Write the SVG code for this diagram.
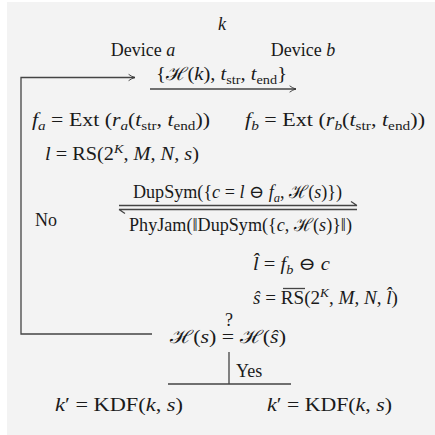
<svg xmlns="http://www.w3.org/2000/svg" width="435" height="435" viewBox="0 0 435 435">
<defs>
<style>
.m{font-family:"Liberation Serif","DejaVu Serif",serif;font-size:18px;fill:#1a1a1a}
.i{font-style:italic}
.s{font-size:12.5px}
.ln{stroke:#444;stroke-width:1.3;fill:none}
</style>
<marker id="arr" viewBox="0 0 10 10" refX="9" refY="5" markerWidth="8" markerHeight="9" orient="auto" markerUnits="userSpaceOnUse">
<path d="M1,1 Q5,4 9,5 Q5,6 1,9" fill="none" stroke="#333" stroke-width="1.1"/>
</marker>
</defs>
<rect x="7" y="2" width="428" height="433" fill="#f3f3f3"/>

<g id="connectors">
<path class="ln" d="M152,334 H21 V77.5 H135" marker-end="url(#arr)"/>
<path class="ln" d="M150,89 H296" marker-end="url(#arr)"/>
<path class="ln" d="M119,205.5 H357 M357,205.5 L351,201.5"/>
<path class="ln" d="M119,209.5 H357 M119,209.5 L125,213.5"/>
<path class="ln" d="M229,352 V384 M168,384 H291"/>
</g>

<g id="key"><text class="m i" x="222" y="30" text-anchor="middle">k</text></g>
<g id="device-a"><text class="m" x="143" y="56" font-size="17" text-anchor="middle">Device <tspan class="i">a</tspan></text></g>
<g id="device-b"><text class="m" x="303" y="56" font-size="17" text-anchor="middle">Device <tspan class="i">b</tspan></text></g>

<g id="msg1"><text class="m" x="156" y="80" textLength="131" lengthAdjust="spacingAndGlyphs">{ℋ(<tspan class="i">k</tspan>), <tspan class="i">t</tspan><tspan class="s" dy="4">str</tspan><tspan dy="-4">, </tspan><tspan class="i">t</tspan><tspan class="s" dy="4">end</tspan><tspan dy="-4">}</tspan></text></g>

<g id="fa"><text class="m" x="32" y="126" textLength="178" lengthAdjust="spacingAndGlyphs"><tspan class="i">f</tspan><tspan class="s i" dy="4">a</tspan><tspan dy="-4"> = Ext (</tspan><tspan class="i">r</tspan><tspan class="s i" dy="4">a</tspan><tspan dy="-4">(</tspan><tspan class="i">t</tspan><tspan class="s" dy="4">str</tspan><tspan dy="-4">, </tspan><tspan class="i">t</tspan><tspan class="s" dy="4">end</tspan><tspan dy="-4">))</tspan></text></g>

<g id="fb"><text class="m" x="245" y="126" textLength="180" lengthAdjust="spacingAndGlyphs"><tspan class="i">f</tspan><tspan class="s i" dy="4">b</tspan><tspan dy="-4"> = Ext (</tspan><tspan class="i">r</tspan><tspan class="s i" dy="4">b</tspan><tspan dy="-4">(</tspan><tspan class="i">t</tspan><tspan class="s" dy="4">str</tspan><tspan dy="-4">, </tspan><tspan class="i">t</tspan><tspan class="s" dy="4">end</tspan><tspan dy="-4">))</tspan></text></g>

<g id="rs"><text class="m" x="45" y="160" textLength="154" lengthAdjust="spacingAndGlyphs"><tspan class="i">l</tspan> = RS(2<tspan class="s i" dy="-7">K</tspan><tspan dy="7">, </tspan><tspan class="i">M</tspan>, <tspan class="i">N</tspan>, <tspan class="i">s</tspan>)</text></g>

<g id="dupsym"><text class="m" x="133" y="198" textLength="209" lengthAdjust="spacingAndGlyphs">DupSym({<tspan class="i">c</tspan> = <tspan class="i">l</tspan> ⊖ <tspan class="i">f</tspan><tspan class="s i" dy="4">a</tspan><tspan dy="-4">, ℋ(</tspan><tspan class="i">s</tspan>)})</text></g>

<g id="no"><text class="m" x="35" y="226" font-size="17">No</text></g>

<g id="phyjam"><text class="m" x="129" y="231" textLength="223" lengthAdjust="spacingAndGlyphs">PhyJam(‖DupSym({<tspan class="i">c</tspan>, ℋ(<tspan class="i">s</tspan>)}‖)</text></g>

<g id="lhat"><text class="m" x="253" y="270" textLength="77" lengthAdjust="spacingAndGlyphs"><tspan class="i">l̂</tspan> = <tspan class="i">f</tspan><tspan class="s i" dy="4">b</tspan><tspan dy="-4"> ⊖ </tspan><tspan class="i">c</tspan></text></g>

<g id="shat"><text class="m" x="253" y="304" textLength="145" lengthAdjust="spacingAndGlyphs"><tspan class="i">ŝ</tspan> = RS(2<tspan class="s i" dy="-7">K</tspan><tspan dy="7">, </tspan><tspan class="i">M</tspan>, <tspan class="i">N</tspan>, <tspan class="i">l̂</tspan>)</text>
<line class="ln" x1="283" y1="288.5" x2="305" y2="288.5" stroke-width="1"/></g>

<g id="check"><text class="m" x="170" y="343" textLength="116" lengthAdjust="spacingAndGlyphs">ℋ(<tspan class="i">s</tspan>) = ℋ(<tspan class="i">ŝ</tspan>)</text>
<text class="m" x="229" y="326" text-anchor="middle" font-size="11">?</text></g>

<g id="yes"><text class="m" x="236" y="377" font-size="14">Yes</text></g>

<g id="kdf-a"><text class="m" x="55" y="411" textLength="128" lengthAdjust="spacingAndGlyphs"><tspan class="i">k</tspan>′ = KDF(<tspan class="i">k</tspan>, <tspan class="i">s</tspan>)</text></g>
<g id="kdf-b"><text class="m" x="267" y="411" textLength="125" lengthAdjust="spacingAndGlyphs"><tspan class="i">k</tspan>′ = KDF(<tspan class="i">k</tspan>, <tspan class="i">s</tspan>)</text></g>
</svg>
